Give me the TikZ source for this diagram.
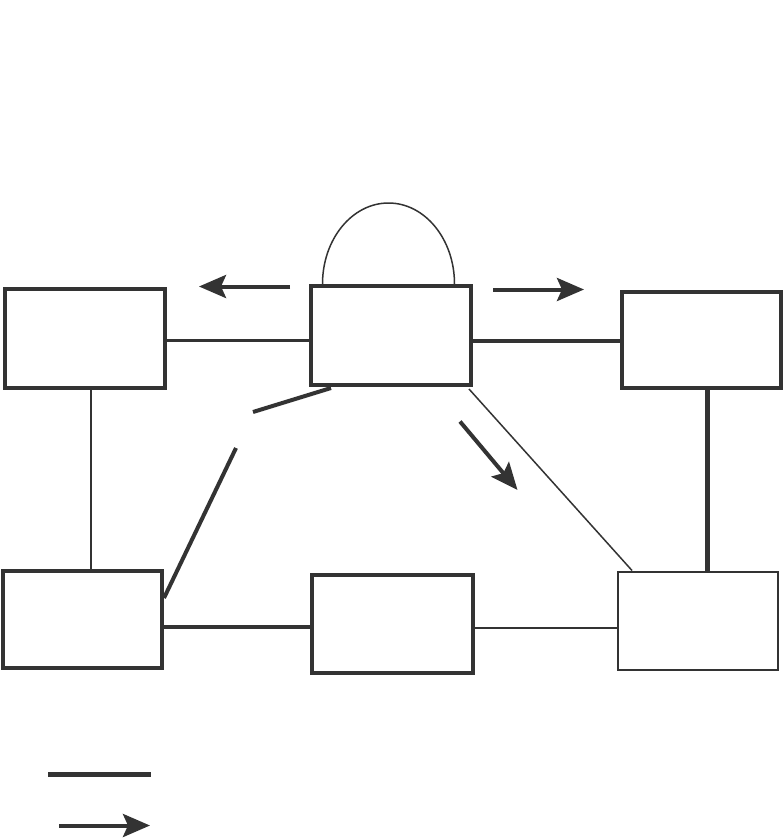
\documentclass[tikz,border=0pt]{standalone}
\usetikzlibrary{arrows.meta,calc}
\definecolor{ink}{HTML}{333333}
\begin{document}
\begin{tikzpicture}[x=1pt,y=-1pt,
  box/.style={draw=ink,line width=4pt,rectangle,inner sep=0pt,fill=white},
  thinbox/.style={draw=ink,line width=2pt,rectangle,inner sep=0pt,fill=white},
  conn/.style={draw=ink},
  flow/.style={draw=ink,line width=4pt,-{Stealth[length=27pt,width=23pt,inset=5pt]}}
]
\useasboundingbox[fill=white] (0,0) rectangle (784,839);

% boxes
\node[box,minimum width=160pt,minimum height=99pt] (A) at (85,338.5) {};
\node[box,minimum width=160pt,minimum height=99pt] (B) at (391,335.5) {};
\node[box,minimum width=159pt,minimum height=96pt] (C) at (701.5,340) {};
\node[box,minimum width=159pt,minimum height=97pt] (D) at (82.5,619.5) {};
\node[box,minimum width=161pt,minimum height=98pt] (E) at (392.5,624) {};
\node[thinbox,minimum width=160pt,minimum height=98.5pt] (F) at (698,620.75) {};

% self loop arc on B
\draw[ink,line width=1.5pt] ($(B.north west)+(13.5,0)$) arc[start angle=180,end angle=0,x radius=66pt,y radius=81pt];

% connectors
\draw[conn,line width=3pt] (A.east |- 0,340.5) -- (B.west |- 0,340.5);
\draw[conn,line width=4pt] (B.east |- 0,340.5) -- (C.west |- 0,340.5);
\draw[conn,line width=1.5pt] (A.south -| 91,0) -- (D.north -| 91,0);
\draw[conn,line width=5pt] (C.south -| 707.5,0) -- (F.north -| 707.5,0);
\draw[conn,line width=4pt] (D.east |- 0,626.5) -- (E.west |- 0,626.5);
\draw[conn,line width=2pt] (E.east |- 0,627.5) -- (F.west |- 0,627.5);
\draw[conn,line width=1.5pt] ($(B.south east)+(-4,2)$) -- ($(F.north west)+(15,0)$);

% broken connector B -- D
\coordinate (k1) at (253,412);
\coordinate (k2) at (236,448);
\draw[conn,line width=4pt] ($(B.south west)+(22,1)$) -- (k1);
\draw[conn,line width=4pt] (k2) -- (D.east |- 0,598);

% flow arrows
\coordinate (a1s) at (290,286.5); \coordinate (a1e) at (199,286.5);
\coordinate (a2s) at (493,289.5); \coordinate (a2e) at (584,289.5);
\coordinate (a3s) at (460,421.5); \coordinate (a3e) at (517.5,490);
\draw[flow] (a1s) -- (a1e);
\draw[flow] (a2s) -- (a2e);
\draw[flow] (a3s) -- (a3e);

% legend
\coordinate (l1s) at (48,774); \coordinate (l1e) at (151,774);
\coordinate (l2s) at (59,825.5); \coordinate (l2e) at (150,825.5);
\draw[conn,line width=5pt] (l1s) -- (l1e);
\draw[flow] (l2s) -- (l2e);
\end{tikzpicture}
\end{document}
